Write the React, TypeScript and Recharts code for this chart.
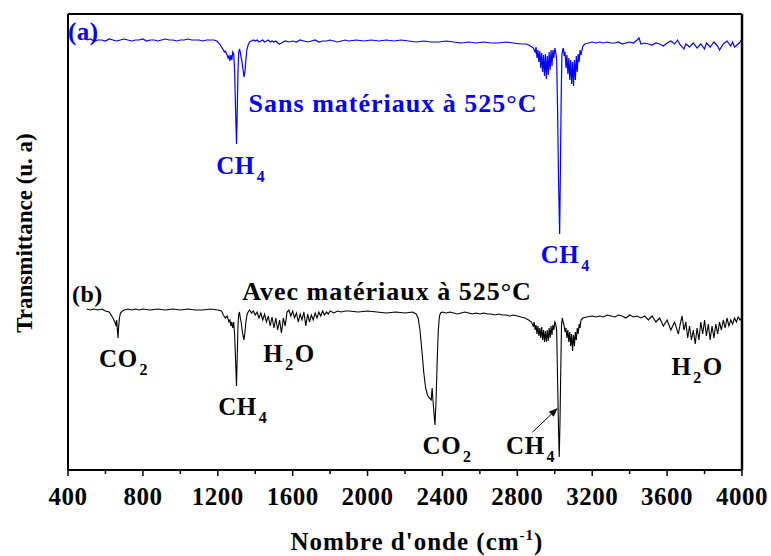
import { LineChart, Line, XAxis, YAxis, ReferenceDot, ReferenceLine } from 'recharts';

const FONT = '"Liberation Serif", "Times New Roman", Times, serif';
const BLUE = '#0000ff';
const BLACK = '#000000';

// (a) sans matériaux : [nombre d'onde, transmittance u.a.]
const sansPts: [number, number][] = [
  [500, 430], [520, 431], [540, 429], [560, 430], [580, 430], [600, 429], [620, 431], [640, 430],
  [660, 429], [680, 430], [700, 431], [720, 430], [740, 429], [760, 430], [780, 430], [800, 431],
  [820, 429], [840, 430], [860, 430], [880, 429], [900, 430], [920, 431], [940, 430], [960, 430],
  [980, 429], [1000, 430], [1020, 430], [1040, 431], [1060, 430], [1080, 430], [1100, 430], [1120, 429],
  [1140, 430], [1160, 430], [1180, 430], [1195, 429], [1210, 426], [1220, 423], [1230, 420], [1235, 418],
  [1240, 419], [1250, 415], [1255, 412], [1260, 414], [1265, 409], [1270, 415], [1275, 410], [1280, 418],
  [1285, 416], [1290, 400], [1295, 360], [1300, 326], [1304, 360], [1308, 400], [1312, 418], [1316, 421],
  [1320, 418], [1325, 412], [1330, 408], [1335, 400], [1340, 393], [1345, 398], [1350, 410], [1355, 420],
  [1362, 425], [1370, 428], [1380, 429], [1390, 430], [1400, 429], [1410, 430], [1420, 428], [1430, 429],
  [1440, 430], [1450, 428], [1460, 429], [1470, 430], [1480, 428], [1490, 429], [1500, 428], [1510, 429],
  [1520, 427], [1530, 426], [1540, 427], [1550, 428], [1560, 429], [1580, 428], [1600, 429], [1620, 428],
  [1640, 430], [1660, 429], [1680, 428], [1700, 429], [1720, 430], [1740, 428], [1760, 429], [1780, 429],
  [1800, 430], [1820, 429], [1840, 428], [1860, 429], [1880, 430], [1900, 429], [1940, 430], [1980, 429],
  [2020, 430], [2060, 429], [2100, 430], [2140, 429], [2180, 430], [2220, 429], [2260, 428], [2300, 429],
  [2340, 428], [2380, 428], [2420, 429], [2460, 428], [2500, 427], [2540, 428], [2580, 427], [2620, 428],
  [2660, 427], [2700, 427], [2740, 428], [2780, 427], [2820, 426], [2850, 426], [2870, 424], [2885, 422],
  [2895, 418], [2900, 423], [2905, 412], [2910, 420], [2915, 408], [2920, 419], [2925, 402], [2930, 417],
  [2935, 398], [2940, 415], [2945, 394], [2950, 416], [2955, 391], [2960, 414], [2965, 395], [2970, 418],
  [2975, 400], [2980, 420], [2985, 404], [2990, 420], [2995, 412], [3000, 422], [3005, 418], [3010, 410],
  [3015, 360], [3020, 290], [3026, 236], [3030, 300], [3034, 370], [3038, 415], [3042, 420], [3046, 422],
  [3050, 414], [3055, 418], [3060, 402], [3065, 415], [3070, 396], [3075, 412], [3080, 390], [3085, 410],
  [3090, 386], [3095, 408], [3100, 384], [3105, 410], [3110, 390], [3115, 414], [3120, 398], [3125, 416],
  [3130, 408], [3135, 420], [3140, 415], [3150, 424], [3160, 426], [3180, 427], [3200, 428], [3220, 427],
  [3240, 428], [3260, 427], [3280, 428], [3300, 427], [3320, 427], [3340, 428], [3360, 426], [3380, 427],
  [3400, 428], [3420, 427], [3440, 430], [3450, 432], [3460, 426], [3480, 427], [3500, 426], [3520, 425],
  [3540, 427], [3560, 426], [3580, 424], [3600, 427], [3620, 429], [3640, 426], [3656, 430], [3670, 425],
  [3690, 421], [3700, 426], [3720, 423], [3740, 427], [3760, 422], [3780, 426], [3800, 421], [3810, 427],
  [3830, 423], [3850, 428], [3870, 424], [3880, 420], [3900, 426], [3920, 429], [3940, 424], [3950, 428],
  [3960, 423], [3980, 426], [3990, 428], [4000, 431],
];

// (b) avec matériaux
const avecPts: [number, number][] = [
  [500, 161], [520, 160], [540, 161], [560, 160], [580, 161], [600, 159], [620, 158], [630, 155],
  [640, 152], [650, 148], [656, 145], [660, 150], [664, 140], [667, 132], [670, 142], [675, 152],
  [680, 157], [690, 159], [700, 160], [720, 161], [740, 160], [760, 161], [780, 160], [800, 161],
  [840, 160], [880, 161], [920, 160], [960, 161], [1000, 160], [1040, 161], [1080, 160], [1120, 160],
  [1160, 161], [1200, 160], [1220, 159], [1230, 155], [1240, 152], [1250, 154], [1260, 148], [1265, 150],
  [1270, 144], [1275, 148], [1280, 142], [1285, 148], [1290, 135], [1295, 110], [1300, 84], [1304, 115],
  [1308, 145], [1312, 156], [1316, 158], [1320, 152], [1325, 148], [1330, 140], [1335, 134], [1340, 130],
  [1345, 138], [1350, 148], [1356, 155], [1362, 158], [1370, 160], [1380, 157], [1390, 159], [1400, 155],
  [1410, 158], [1420, 152], [1430, 157], [1440, 150], [1450, 156], [1460, 148], [1470, 154], [1480, 144],
  [1490, 153], [1500, 142], [1510, 152], [1520, 140], [1530, 150], [1540, 137], [1550, 152], [1560, 144],
  [1570, 158], [1580, 160], [1590, 154], [1600, 159], [1610, 152], [1620, 157], [1630, 148], [1640, 156],
  [1650, 150], [1660, 158], [1670, 144], [1680, 156], [1690, 148], [1700, 155], [1710, 150], [1720, 157],
  [1730, 152], [1740, 158], [1750, 154], [1760, 159], [1770, 155], [1780, 158], [1790, 156], [1800, 159],
  [1820, 157], [1840, 159], [1860, 158], [1880, 159], [1900, 159], [1950, 158], [2000, 159], [2050, 158],
  [2100, 157], [2150, 158], [2200, 157], [2240, 158], [2260, 156], [2270, 152], [2280, 140], [2290, 120],
  [2300, 98], [2310, 82], [2320, 75], [2330, 72], [2340, 70], [2345, 82], [2350, 68], [2360, 45],
  [2366, 70], [2372, 110], [2378, 140], [2384, 154], [2390, 157], [2400, 158], [2420, 157], [2440, 158],
  [2460, 157], [2480, 156], [2500, 157], [2520, 158], [2540, 157], [2560, 156], [2580, 157], [2600, 156],
  [2620, 157], [2640, 156], [2660, 156], [2680, 155], [2700, 156], [2720, 155], [2740, 155], [2760, 154],
  [2780, 155], [2800, 154], [2820, 153], [2840, 152], [2860, 150], [2875, 148], [2885, 144], [2890, 148],
  [2895, 140], [2900, 145], [2905, 136], [2910, 144], [2915, 134], [2920, 142], [2925, 132], [2930, 143],
  [2935, 130], [2940, 140], [2945, 128], [2950, 139], [2955, 128], [2960, 140], [2965, 129], [2970, 142],
  [2975, 132], [2980, 144], [2985, 135], [2990, 145], [2995, 140], [3000, 148], [3005, 146], [3010, 140],
  [3015, 90], [3020, 40], [3024, 13], [3028, 50], [3032, 100], [3036, 145], [3040, 152], [3045, 148],
  [3050, 144], [3055, 138], [3060, 142], [3065, 132], [3070, 140], [3075, 128], [3080, 138], [3085, 124],
  [3090, 136], [3095, 119], [3100, 135], [3105, 124], [3110, 138], [3115, 130], [3120, 142], [3125, 136],
  [3130, 146], [3135, 142], [3140, 150], [3150, 152], [3170, 153], [3200, 154], [3220, 153], [3240, 154],
  [3260, 153], [3280, 155], [3300, 154], [3320, 153], [3340, 155], [3360, 154], [3380, 152], [3400, 155],
  [3420, 153], [3440, 154], [3460, 152], [3480, 154], [3500, 150], [3520, 154], [3540, 148], [3560, 152],
  [3580, 144], [3600, 150], [3620, 140], [3640, 148], [3660, 136], [3670, 146], [3680, 154], [3690, 140],
  [3700, 148], [3710, 132], [3720, 144], [3730, 130], [3740, 140], [3750, 126], [3760, 142], [3770, 130],
  [3780, 148], [3790, 136], [3800, 150], [3810, 134], [3820, 146], [3830, 130], [3840, 144], [3850, 132],
  [3860, 146], [3870, 136], [3880, 148], [3890, 140], [3900, 150], [3910, 142], [3920, 152], [3930, 144],
  [3940, 150], [3950, 146], [3960, 152], [3970, 148], [3980, 153], [3990, 150], [4000, 152],
];

const majorTicks = [400, 800, 1200, 1600, 2000, 2400, 2800, 3200, 3600, 4000];
const minorTicks = [600, 1000, 1400, 1800, 2200, 2600, 3000, 3400, 3800];
const allXTicks = [...majorTicks, ...minorTicks].sort((a, b) => a - b);
const yMax = 456;
const yTicks = Array.from({ length: 35 }, (_, i) => (i * yMax) / 34);

// annotations: text with _n = subscript
const notes = [
  { wn: 400, t: 430, text: '(a)', color: BLUE, anchor: 'start', size: 25 },
  { wn: 2136, t: 358, text: 'Sans matériaux à 525°C', color: BLUE, anchor: 'middle', size: 26 },
  { wn: 1192, t: 296, text: 'CH_4', color: BLUE, anchor: 'start', size: 25 },
  { wn: 2925, t: 207, text: 'CH_4', color: BLUE, anchor: 'start', size: 25 },
  { wn: 421, t: 168, text: '(b)', color: BLACK, anchor: 'start', size: 24 },
  { wn: 2104, t: 170, text: 'Avec matériaux à 525°C', color: BLACK, anchor: 'middle', size: 26 },
  { wn: 566, t: 103, text: 'CO_2', color: BLACK, anchor: 'start', size: 25 },
  { wn: 1202, t: 55, text: 'CH_4', color: BLACK, anchor: 'start', size: 25 },
  { wn: 1443, t: 108, text: 'H_2O', color: BLACK, anchor: 'start', size: 25 },
  { wn: 2294, t: 16, text: 'CO_2', color: BLACK, anchor: 'start', size: 25 },
  { wn: 2740, t: 16, text: 'CH_4', color: BLACK, anchor: 'start', size: 25 },
  { wn: 3623, t: 95, text: 'H_2O', color: BLACK, anchor: 'start', size: 25 },
];
const arrowFrom = { wn: 2882, t: 38 };
const arrowTo = { wn: 3016, t: 62 };

const sansData = sansPts.map(([wn, t]) => ({ wn, t }));
const avecData = avecPts.map(([wn, t]) => ({ wn, t }));

function Chem({ x, y, text, color, size, anchor }: any) {
  const parts = text.split(/(_\d)/).filter(Boolean);
  const sub = Math.round(size * 0.62);
  const drop = 8;
  let down = false;
  return (
    <text x={x} y={y} fill={color} style={{ fontFamily: FONT }} fontWeight="bold" fontSize={size}
      textAnchor={anchor} letterSpacing={anchor === 'middle' ? 1 : 0.5}>
      {parts.map((p: string, i: number) => {
        if (p.startsWith('_')) {
          down = true;
          return <tspan key={i} dx={2} dy={drop} fontSize={sub}>{p.slice(1)}</tspan>;
        }
        const dy = down ? -drop : 0;
        down = false;
        return <tspan key={i} dx={dy ? 1 : 0} dy={dy}>{p}</tspan>;
      })}
    </text>
  );
}

function BottomTick(props: any) {
  const { x, y, payload } = props;
  const major = majorTicks.includes(payload.value);
  return (
    <g>
      <line x1={x} x2={x} y1={y} y2={y + (major ? 6 : 4)} stroke={BLACK} strokeWidth={1.5} />
      {major && (
        <text x={x} y={y + 35} textAnchor="middle" style={{ fontFamily: FONT }} fontWeight="bold"
          fontSize={25} letterSpacing={0.5} fill={BLACK}>
          {payload.value}
        </text>
      )}
    </g>
  );
}

function Arrow(props: any) {
  const { x1, y1, x2, y2 } = props;
  const ang = Math.atan2(y2 - y1, x2 - x1);
  const L = 9;
  const W = 3.5;
  const bx = x2 - L * Math.cos(ang);
  const by = y2 - L * Math.sin(ang);
  const px = -Math.sin(ang) * W;
  const py = Math.cos(ang) * W;
  return (
    <g>
      <line x1={x1} y1={y1} x2={bx} y2={by} stroke={BLACK} strokeWidth={1} />
      <polygon points={`${x2},${y2} ${bx + px},${by + py} ${bx - px},${by - py}`} fill={BLACK} />
    </g>
  );
}

export default function App() {
  return (
    <div style={{ position: 'absolute', left: 0, top: 0, background: '#fff' }}>
      <LineChart width={771} height={556} margin={{ top: 13, right: 28, bottom: 0, left: 68 }}>
        <XAxis xAxisId="b" dataKey="wn" type="number" domain={[400, 4000]} ticks={allXTicks}
          height={86} tickLine={false} tickSize={0} tickMargin={0} tick={<BottomTick />}
          axisLine={{ stroke: BLACK, strokeWidth: 2 }} allowDataOverflow
          label={{
            content: (p: any) => {
              const vb = p.viewBox;
              return (
                <text x={vb.x + vb.width / 2 + 12} y={vb.y + 80} textAnchor="middle" style={{ fontFamily: FONT }}
                  fontWeight="bold" fontSize={25} letterSpacing={1} fill={BLACK}>
                  Nombre d'onde (cm<tspan dy={-10} fontSize={15}>-1</tspan><tspan dy={10}>)</tspan>
                </text>
              );
            },
          }}
        />
        <XAxis xAxisId="t" orientation="top" type="number" domain={[400, 4000]} ticks={allXTicks}
          height={1} tick={false} tickSize={3} tickLine={{ stroke: BLACK, strokeWidth: 1.5 }}
          axisLine={{ stroke: BLACK, strokeWidth: 2 }} />
        <YAxis yAxisId="l" type="number" domain={[0, yMax]} ticks={yTicks} width={1} mirror
          tick={false} tickSize={4} tickLine={{ stroke: BLACK, strokeWidth: 1.2 }}
          axisLine={{ stroke: BLACK, strokeWidth: 2 }}
          label={{
            content: (p: any) => {
              const vb = p.viewBox;
              const cx = vb.x - 36;
              const cy = vb.y + vb.height / 2 - 9;
              return (
                <text x={cx} y={cy} transform={`rotate(-90 ${cx} ${cy})`} textAnchor="middle"
                  style={{ fontFamily: FONT }} fontWeight="bold" fontSize={23} fill={BLACK}>
                  Transmittance (u. a)
                </text>
              );
            },
          }}
        />
        <YAxis yAxisId="r" orientation="right" type="number" domain={[0, yMax]} ticks={yTicks} width={1}
          tick={false} tickSize={3} tickLine={{ stroke: BLACK, strokeWidth: 1.2 }}
          axisLine={{ stroke: BLACK, strokeWidth: 2.5 }} />
        <Line xAxisId="b" yAxisId="l" data={sansData} dataKey="t" type="linear" stroke={BLUE}
          strokeWidth={1.2} dot={false} isAnimationActive={false} />
        <Line xAxisId="b" yAxisId="l" data={avecData} dataKey="t" type="linear" stroke={BLACK}
          strokeWidth={1.1} dot={false} isAnimationActive={false} />
        <ReferenceLine xAxisId="b" yAxisId="l"
          segment={[{ x: arrowFrom.wn, y: arrowFrom.t }, { x: arrowTo.wn, y: arrowTo.t }]}
          shape={(p: any) => <Arrow {...p} />} />
        {notes.map((n, i) => (
          <ReferenceDot key={i} xAxisId="b" yAxisId="l" x={n.wn} y={n.t} r={0} fill="none" stroke="none"
            label={{
              content: (p: any) => (
                <Chem x={p.viewBox.x} y={p.viewBox.y} text={n.text} color={n.color} size={n.size} anchor={n.anchor} />
              ),
            }}
          />
        ))}
      </LineChart>
    </div>
  );
}
